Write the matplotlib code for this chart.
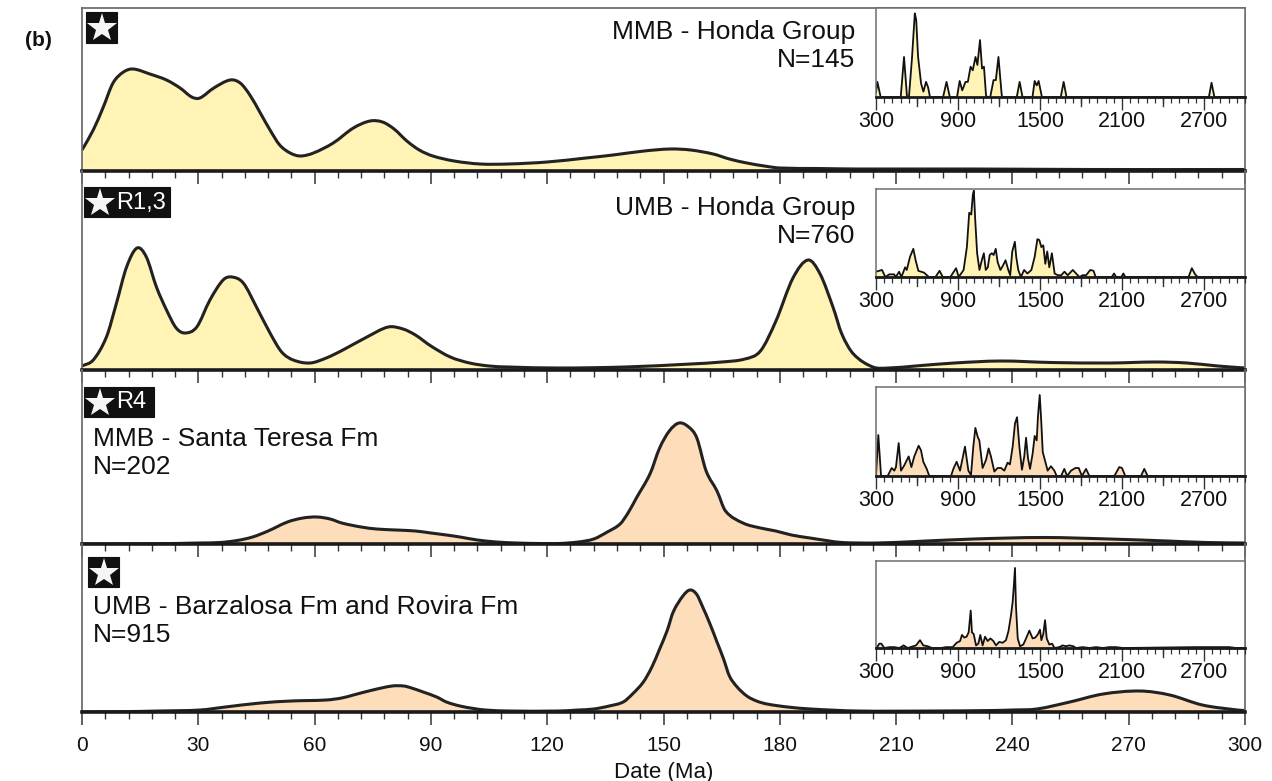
import matplotlib
matplotlib.use("Agg")
import matplotlib.pyplot as plt
from matplotlib.patches import Rectangle, PathPatch
from matplotlib.path import Path
from matplotlib.ticker import MultipleLocator, FixedLocator

plt.rcParams['font.family'] = ['Liberation Sans', 'DejaVu Sans']

# ---------------- data ----------------
titles = ["MMB - Honda Group", "UMB - Honda Group",
          "MMB - Santa Teresa Fm", "UMB - Barzalosa Fm and Rovira Fm"]
n_labels = ["N=145", "N=760", "N=202", "N=915"]
badges = ["", "R1,3", "R4", ""]

# main KDE curves (age in Ma, relative density)
age1 = [0, 2.9, 5.5, 8, 10.7, 13.2, 17.5, 21.8, 25.3, 28.3, 30.4, 34, 38.2, 40.8, 43.3, 46,
        48.5, 51, 53.7, 56.3, 59.7, 64.8, 70, 74.3, 77.5, 80.5, 83.8, 87, 90.5, 96, 102.7,
        110, 120, 130, 137, 145, 151.7, 157, 162.8, 167, 171.5, 176, 180, 190, 200, 230,
        260, 300]
den1 = [21, 41, 64, 88, 99, 102, 97, 91, 83, 74, 73, 83, 91, 88, 76, 58,
        41, 26, 18, 15, 18, 28, 43, 50, 49, 42, 30, 21, 15, 10, 7,
        7, 9, 13, 16, 20, 22, 21, 17, 12, 8, 5, 3, 2.5, 2, 2,
        1.5, 1.5]

age2 = [0, 2.9, 6.3, 8.9, 11.5, 14.2, 16.6, 19.2, 21.8, 24.3, 26.6, 29.6, 33, 36.4, 38.7,
        41.6, 45, 48.5, 51.5, 54.5, 58.8, 63, 67.3, 73.5, 79, 82.8, 86, 90, 95, 100, 105,
        110, 123, 140, 157, 165, 171, 175, 179, 183.4, 187.3, 190.4, 193.8, 196, 199, 204,
        208, 215, 225, 237, 250, 265, 277, 285, 293, 300]
den2 = [4, 10, 33, 67, 103, 122, 113, 83, 60, 42, 37, 43, 70, 90, 93,
        87, 63, 37, 18, 10, 7, 12, 20, 33, 43, 41, 35, 24, 13, 7, 4,
        3, 2, 3, 6, 8, 11, 19, 49, 92, 110, 96, 62, 36, 16, 3,
        2, 4, 7, 9, 7.5, 7, 8, 7, 4, 2]

age3 = [0, 20, 30, 35.6, 40, 44, 48, 53, 57, 60.6, 64, 67, 72, 76, 81, 86, 90, 94, 97.5,
        102, 107, 112, 118, 123, 128, 132, 135.5, 138.8, 141, 143, 146.5, 149, 151.5, 154,
        156.5, 158.6, 161, 163.8, 166, 170.5, 175, 179, 183, 187.8, 192, 196, 205, 215,
        230, 248, 265, 280, 290, 300]
den3 = [0, 0.3, 1, 1.5, 3.5, 7, 13, 22, 26, 27, 25, 21, 17, 15, 14, 13, 11, 9, 7,
        4, 2, 1, 0.5, 0.5, 2, 5, 12, 20, 32, 46, 70, 96, 113, 121,
        117, 106, 73, 53, 33, 21, 16, 13, 9, 6, 3.5, 1.5, 1, 2.5,
        5, 6.5, 5, 3, 1.5, 1]

age4 = [0, 10, 20, 30.5, 37, 46, 54, 63, 67, 70, 75, 80, 83, 85, 88, 91.5, 94, 97.5, 101,
        104, 110, 123, 128, 132, 136, 139.6, 142, 144.8, 147, 149, 151, 152.5, 155, 156.8,
        158.5, 160, 162, 163.8, 165.5, 167, 169, 171.5, 174, 176.7, 182, 188, 200, 220,
        235, 240, 246.3, 254.8, 263.4, 272.9, 280.6, 289, 298, 300]
den4 = [0, 0.3, 1, 2, 5, 9, 11, 12, 14, 17, 22, 26, 26, 24, 20, 15, 10, 6, 3.5,
        2, 1, 1, 2, 3, 6, 10, 18, 30, 45, 63, 82, 100, 116, 122,
        118, 106, 88, 70, 53, 36, 25, 16, 11, 8, 5, 3, 1, 1,
        1.5, 2, 3, 10, 18, 21, 17, 7, 2, 1.5]

# inset curves (age in Ma, relative density, 0-1)
ins_age1 = [300, 310, 334, 481, 505, 527, 541, 563, 584, 594, 608, 630, 647, 666, 681, 695,
            791, 816, 840, 893, 912, 931, 955, 972, 992, 1008, 1028, 1042, 1061, 1076, 1090,
            1105, 1112, 1136, 1160, 1177, 1196, 1220, 1225, 1330, 1351, 1372, 1445, 1461,
            1476, 1490, 1514, 1652, 1673, 1694, 2736, 2755, 2776, 3000]
ins_den1 = [0.05, 0.17, 0, 0, 0.45, 0, 0, 0.43, 0.94, 0.87, 0.45, 0.15, 0.06, 0.17, 0.11, 0,
            0, 0.17, 0, 0, 0.18, 0.075, 0.17, 0.17, 0.34, 0.30, 0.45, 0.36, 0.64, 0.32, 0.34,
            0.02, 0, 0, 0.19, 0.19, 0.45, 0.02, 0, 0, 0.17, 0, 0, 0.18,
            0.13, 0.18, 0, 0, 0.17, 0, 0, 0.16, 0, 0]

ins_age2 = [300, 344, 368, 397, 433, 445, 469, 486, 513, 525, 549, 573, 590, 610, 651, 687,
            735, 765, 789, 844, 886, 905, 941, 965, 982, 997, 1009, 1016, 1026, 1040, 1057,
            1074, 1089, 1103, 1118, 1132, 1147, 1161, 1176, 1190, 1210, 1229, 1248, 1268,
            1282, 1297, 1316, 1326, 1341, 1360, 1384, 1408, 1437, 1461, 1481, 1495, 1510,
            1524, 1539, 1553, 1568, 1587, 1607, 1631, 1655, 1679, 1703, 1740, 1764, 1788,
            1812, 1837, 1868, 1892, 1907, 2025, 2042, 2057, 2095, 2110, 2124, 2587, 2611,
            2635, 2654, 3000]
ins_den2 = [0.06, 0.08, 0, 0.03, 0.03, 0, 0.06, 0, 0.11, 0.08, 0.23, 0.32, 0.19, 0.07, 0.05, 0,
            0, 0.07, 0, 0, 0.1, 0, 0.08, 0.34, 0.73, 0.71, 0.94, 0.98, 0.65, 0.27, 0.08,
            0.19, 0.27, 0.08, 0.11, 0.25, 0.27, 0.25, 0.32, 0.17, 0.08, 0.13, 0.19, 0.08,
            0.02, 0.29, 0.40, 0.23, 0.08, 0, 0.08, 0.04, 0.08, 0.23, 0.43, 0.42, 0.34,
            0.36, 0.15, 0.29, 0.11, 0.27, 0.04, 0.02, 0.02, 0.06, 0.02, 0.08, 0.04, 0,
            0.02, 0.02, 0.08, 0.07, 0, 0, 0.04, 0, 0, 0.04, 0, 0, 0.1,
            0.03, 0, 0]

ins_age3 = [300, 317, 337, 385, 415, 434, 446, 466, 483, 507, 539, 559, 580, 612, 629, 646,
            671, 690, 849, 866, 890, 915, 951, 976, 995, 1012, 1027, 1044, 1056, 1080, 1105,
            1124, 1141, 1166, 1190, 1215, 1239, 1263, 1280, 1300, 1317, 1332, 1349, 1368,
            1385, 1398, 1412, 1427, 1446, 1461, 1476, 1485, 1498, 1510, 1520, 1539, 1556,
            1580, 1605, 1622, 1654, 1678, 1698, 1727, 1759, 1783, 1807, 1837, 1861, 2044,
            2080, 2100, 2124, 2239, 2263, 2288, 3000]
ins_den3 = [0, 0.46, 0, 0, 0.09, 0.06, 0.10, 0.37, 0.06, 0.12, 0.22, 0.10, 0.22, 0.34, 0.29, 0.16,
            0.08, 0, 0, 0.08, 0.16, 0.06, 0.33, 0.06, 0.01, 0.33, 0.54, 0.44, 0.40, 0.09, 0.18,
            0.31, 0.22, 0.05, 0.09, 0.09, 0.06, 0.15, 0.13, 0.33, 0.59, 0.66, 0.33, 0.07,
            0.22, 0.43, 0.20, 0.08, 0.25, 0.45, 0.40, 0.67, 0.91, 0.59, 0.27, 0.16, 0.06,
            0.11, 0.06, 0, 0, 0.08, 0, 0.06, 0.09, 0.09, 0, 0.08, 0, 0,
            0.10, 0.09, 0, 0, 0.08, 0, 0]

ins_age4 = [300, 305, 324, 339, 361, 398, 434, 471, 502, 532, 593, 622, 646, 678, 710, 776,
            812, 861, 890, 915, 929, 946, 963, 978, 993, 1002, 1015, 1032, 1049, 1063, 1080,
            1098, 1117, 1137, 1159, 1178, 1202, 1227, 1251, 1270, 1288, 1300, 1307, 1317,
            1324, 1337, 1354, 1378, 1398, 1422, 1446, 1466, 1485, 1500, 1510, 1524, 1537,
            1549, 1568, 1588, 1607, 1641, 1666, 1690, 1715, 1744, 1763, 1812, 1861, 1910,
            1959, 2007, 2056, 2105, 2641, 2690, 2763, 2812, 2885, 2934, 3000]
ins_den4 = [0, 0, 0.05, 0.05, 0, 0.01, 0.01, 0, 0.03, 0, 0.03, 0.09, 0.03, 0.02, 0, 0,
            0.01, 0.01, 0.06, 0.08, 0.15, 0.12, 0.13, 0.18, 0.43, 0.18, 0.16, 0.03, 0.05, 0.15, 0.03,
            0.13, 0.08, 0.11, 0.08, 0.03, 0.07, 0.06, 0.09, 0.20, 0.38, 0.53, 0.68, 0.92,
            0.49, 0.11, 0.02, 0.04, 0.11, 0.20, 0.11, 0.12, 0.16, 0.21, 0.09, 0.16, 0.32,
            0.11, 0.04, 0.05, 0, 0.01, 0.03, 0.02, 0.03, 0.02, 0, 0.01, 0, 0.01,
            0, 0.01, 0.01, 0, 0.01, 0.01, 0.01, 0.01, 0.01, 0, 0]

main_ages = [age1, age2, age3, age4]
main_dens = [den1, den2, den3, den4]
ins_ages = [ins_age1, ins_age2, ins_age3, ins_age4]
ins_dens = [ins_den1, ins_den2, ins_den3, ins_den4]

main_ticks = [0, 30, 60, 90, 120, 150, 180, 210, 240, 270, 300]
inset_ticks = [300, 900, 1500, 2100, 2700]

# ---------------- style / layout ----------------
W, H = 1272, 781
YELLOW = '#FFF3B6'
PEACH = '#FDDDBA'
fills = [YELLOW, YELLOW, PEACH, PEACH]
LINE = '#222222'
FRAME = '#6e6e6e'
TXT = '#111111'


def smooth_path(xs, ys, closed=False):
    """Bezier path drawn through the read points (centred-difference tangents)."""
    n = len(xs)
    h = [xs[k + 1] - xs[k] for k in range(n - 1)]
    d = [0.0] * n
    d[0] = (ys[1] - ys[0]) / h[0]
    d[-1] = (ys[-1] - ys[-2]) / h[-1]
    for k in range(1, n - 1):
        d[k] = (ys[k + 1] - ys[k - 1]) / (xs[k + 1] - xs[k - 1])
    verts, codes = [], []
    if closed:
        verts.append((xs[0], 0)); codes.append(Path.MOVETO)
        verts.append((xs[0], ys[0])); codes.append(Path.LINETO)
    else:
        verts.append((xs[0], ys[0])); codes.append(Path.MOVETO)
    for k in range(n - 1):
        verts += [(xs[k] + h[k] / 3, ys[k] + d[k] * h[k] / 3),
                  (xs[k + 1] - h[k] / 3, ys[k + 1] - d[k + 1] * h[k] / 3),
                  (xs[k + 1], ys[k + 1])]
        codes += [Path.CURVE4] * 3
    if closed:
        verts.append((xs[-1], 0)); codes.append(Path.LINETO)
        verts.append((xs[0], 0)); codes.append(Path.CLOSEPOLY)
    return Path(verts, codes)


fig = plt.figure(figsize=(W / 100, H / 100), dpi=100)


def rect(x0, y0, x1, y1):
    return [x0 / W, 1 - y1 / H, (x1 - x0) / W, (y1 - y0) / H]


X0, X1 = 82, 1245
panel_y = [(8, 171), (171, 370), (370, 544), (544, 712)]
inset_y = [(8, 97), (189, 277), (387, 476), (561, 648)]
ymax_main = [163, 199, 174, 168]

for i in range(4):
    y0, y1 = panel_y[i]
    ax = fig.add_axes(rect(X0, y0, X1, y1))
    ax.set_facecolor('none')
    ax.add_patch(PathPatch(smooth_path(main_ages[i], main_dens[i], closed=True),
                           facecolor=fills[i], edgecolor='none', zorder=1))
    ax.add_patch(PathPatch(smooth_path(main_ages[i], main_dens[i]), facecolor='none',
                           edgecolor=LINE, lw=2.2, zorder=2, joinstyle='round'))
    ax.set_xlim(0, 300)
    ax.set_ylim(0, ymax_main[i])
    ax.yaxis.set_visible(False)
    for s in ['left', 'right', 'top']:
        ax.spines[s].set_color(FRAME)
        ax.spines[s].set_linewidth(1.3)
    ax.spines['top'].set_visible(i == 0)
    ax.spines['bottom'].set_color('#1a1a1a')
    ax.spines['bottom'].set_linewidth(2.6)
    ax.spines['bottom'].set_zorder(3)
    ax.xaxis.set_major_locator(FixedLocator(main_ticks))
    ax.xaxis.set_minor_locator(MultipleLocator(6))
    ax.tick_params(axis='x', which='major', direction='out', length=9, width=1.1,
                   color='#333333', labelsize=15, pad=8, labelcolor=TXT)
    ax.tick_params(axis='x', which='minor', direction='out', length=5, width=1.0,
                   color='#333333')
    if i < 3:
        ax.tick_params(axis='x', labelbottom=False)
    else:
        ax.set_xlabel('Date (Ma)', fontsize=16, color=TXT, labelpad=5)

    # inset
    iy0, iy1 = inset_y[i]
    ia = fig.add_axes(rect(876, iy0, 1245, iy1))
    ia.set_zorder(5)
    ia.set_facecolor('white')
    ia.fill_between(ins_ages[i], 0, ins_dens[i], color=fills[i], lw=0)
    ia.plot(ins_ages[i], ins_dens[i], color='#111111', lw=1.3)
    ia.set_xlim(300, 3000)
    ia.set_ylim(0, 1.0)
    ia.yaxis.set_visible(False)
    for s in ['left', 'right', 'top']:
        ia.spines[s].set_color(FRAME)
        ia.spines[s].set_linewidth(1.1)
    ia.spines['bottom'].set_color('#1a1a1a')
    ia.spines['bottom'].set_linewidth(2.0)
    ia.xaxis.set_major_locator(FixedLocator(inset_ticks))
    ia.xaxis.set_minor_locator(MultipleLocator(60))
    ia.tick_params(axis='x', which='major', direction='out', length=9, width=1.0,
                   color='#333333', labelsize=15.5, pad=1, labelcolor=TXT)
    ia.tick_params(axis='x', which='minor', direction='out', length=4, width=0.9,
                   color='#333333')
    for xv in [600, 1200, 1800, 2400]:
        ia.plot([xv, xv], [0, -0.1], color='#333333', lw=1.0, clip_on=False,
                transform=ia.get_xaxis_transform())

# overlay for annotations in pixel coordinates
ov = fig.add_axes([0, 0, 1, 1])
ov.set_zorder(10)
ov.set_xlim(0, W)
ov.set_ylim(H, 0)
ov.axis('off')

ov.text(25, 40, '(b)', fontsize=15, fontweight='bold', va='center', ha='left', color=TXT)

# titles
FS = 19
ov.text(855, 32, titles[0], fontsize=FS, ha='right', va='center', color=TXT)
ov.text(855, 60, n_labels[0], fontsize=FS, ha='right', va='center', color=TXT)
ov.text(855, 208, titles[1], fontsize=FS, ha='right', va='center', color=TXT)
ov.text(855, 236, n_labels[1], fontsize=FS, ha='right', va='center', color=TXT)
ov.text(93, 439, titles[2], fontsize=FS, ha='left', va='center', color=TXT)
ov.text(93, 467, n_labels[2], fontsize=FS, ha='left', va='center', color=TXT)
ov.text(93, 607, titles[3], fontsize=FS, ha='left', va='center', color=TXT)
ov.text(93, 635, n_labels[3], fontsize=FS, ha='left', va='center', color=TXT)

# badges
badge_boxes = [(86, 12, 117, 43), (84, 187, 170, 217), (84, 387, 154, 417), (88, 557, 119, 587)]
for (bx0, by0, bx1, by1), lab in zip(badge_boxes, badges):
    ov.add_patch(Rectangle((bx0, by0), bx1 - bx0, by1 - by0, facecolor='#111111',
                           edgecolor='#111111', lw=0.8))
    if lab:
        sx = bx0 + 16
        ov.plot([sx], [(by0 + by1) / 2 + 0.5], marker='*', markersize=22, color='#f5f5f5',
                markeredgewidth=0)
        ov.text(bx0 + 32, (by0 + by1) / 2 + 0.5, lab, fontsize=17, color='white',
                ha='left', va='center')
    else:
        ov.plot([(bx0 + bx1) / 2], [(by0 + by1) / 2 + 0.5], marker='*', markersize=22,
                color='#f5f5f5', markeredgewidth=0)

fig.savefig('out.png', dpi=100)
